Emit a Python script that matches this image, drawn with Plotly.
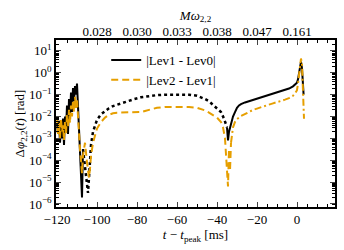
import plotly.graph_objects as go

# ---- data ----
# |Lev1 - Lev0|, early inspiral noisy part (solid)
t_b1 = [-120, -119.5, -119, -118.5, -118, -117.5, -117, -116.5, -116, -115.5, -115, -114.5, -114,
        -113.5, -113, -112.5, -112, -111.5, -111, -110.5, -110, -109.5, -109, -108.5, -108, -107.5, -107]
v_b1 = [5e-3, 1.6e-3, 6.3e-3, 6.3e-4, 3.2e-3, 1e-3, 8e-3, 5e-4, 1e-2, 2.5e-3, 3.2e-2, 1.6e-3, 6.3e-2,
        1e-2, 0.126, 1.6e-2, 0.2, 5e-2, 0.25, 0.1, 0.32, 3.2e-2, 1.6e-3, 3.2e-4, 6.3e-5, 2e-6, 3.2e-4]
# |Lev1 - Lev0|, middle part (dotted)
t_b2 = [-107, -106, -105, -104.5, -104, -103.5, -103, -102, -101, -100, -98, -96, -94, -92, -90, -86,
        -82, -78, -74, -70, -66, -62, -58, -54, -50, -48, -46, -44, -42, -40, -38, -36.5, -35]
v_b2 = [3.2e-4, 5e-5, 1e-5, 3.2e-6, 1.6e-5, 8e-5, 5e-4, 2e-3, 4e-3, 7e-3, 1.26e-2, 1.8e-2, 2.4e-2,
        3e-2, 3.5e-2, 4.7e-2, 6e-2, 7.6e-2, 8.7e-2, 9.5e-2, 0.1, 0.102, 0.102, 0.1, 0.089, 0.076,
        0.063, 0.05, 0.035, 0.025, 0.016, 8e-3, 3.2e-3]
# |Lev1 - Lev0|, late part (solid)
t_b3 = [-35, -34.5, -34, -33, -32, -31, -30, -29, -28, -26, -24, -22, -20, -18, -16, -14, -12, -10,
        -8, -6, -4, -2, -1, 0, 0.5, 1, 1.5, 2, 2.5, 3, 3.3]
v_b3 = [3.2e-3, 8e-4, 2e-3, 5e-3, 1e-2, 1.6e-2, 2.5e-2, 3.2e-2, 3.7e-2, 4.4e-2, 5e-2, 5.8e-2, 6.6e-2,
        7.6e-2, 8.7e-2, 0.1, 0.112, 0.126, 0.145, 0.166, 0.19, 0.24, 0.28, 0.355, 0.5, 1.0, 2.0, 3.2,
        1.6, 0.4, 0.1]

# |Lev2 - Lev1|, inspiral part (dashed)
t_o1 = [-120, -119.5, -119, -118.5, -118, -117.5, -117, -116.5, -116, -115.5, -115, -114.5, -114,
        -113.5, -113, -112.5, -112, -111.5, -111, -110.5, -110, -109.5, -109, -108.5, -108, -107.5, -107,
        -106, -105, -104, -103.5, -103, -102, -101, -100, -98, -96, -94, -92, -90, -88, -86, -84, -82,
        -80, -78, -76, -74, -72, -70, -66, -62, -58, -54, -50, -48, -46, -44, -42, -40, -38, -37, -36,
        -35.5, -35, -34.5, -34, -33.5, -33]
v_o1 = [1e-2, 1.6e-3, 5e-3, 1e-3, 8e-3, 2e-3, 4e-3, 8e-4, 6.3e-3, 1.6e-3, 1.26e-2, 3.2e-3, 2e-2,
        5e-3, 3.2e-2, 1e-2, 5e-2, 1.6e-2, 8e-2, 2.5e-2, 6.3e-2, 6.3e-3, 1.26e-3, 3.2e-4, 1e-4, 2.5e-5, 1.6e-4,
        6.3e-4, 8e-5, 1.6e-5, 4e-5, 1.6e-4, 6.3e-4, 1.4e-3, 2.8e-3, 5.6e-3, 8.9e-3, 1.2e-2, 1.4e-2,
        1.5e-2, 1.5e-2, 1.6e-2, 1.5e-2, 1.5e-2, 1.5e-2, 1.6e-2, 1.8e-2, 2e-2, 2.2e-2, 2.5e-2, 2.75e-2,
        2.8e-2, 2.8e-2, 2.7e-2, 2.5e-2, 2.2e-2, 1.9e-2, 1.5e-2, 1.2e-2, 8.9e-3, 5.6e-3, 3.2e-3, 1e-3,
        2.5e-4, 6.3e-5, 6.3e-6, 3.2e-4, 3.2e-5, 6.3e-4]
# |Lev2 - Lev1|, late part (dash-dot)
t_o2 = [-33, -32, -31, -30, -28, -26, -24, -22, -20, -18, -16, -14, -12, -10, -8, -6, -4, -2, -1, 0,
        0.5, 1, 1.5, 2, 2.5, 3, 3.5]
v_o2 = [6.3e-4, 3.2e-3, 5.6e-3, 7.6e-3, 1.05e-2, 1.3e-2, 1.66e-2, 2e-2, 2.3e-2, 2.7e-2, 3.2e-2,
        3.5e-2, 4e-2, 4.5e-2, 5e-2, 5.9e-2, 6.9e-2, 8.9e-2, 0.112, 0.16, 0.32, 0.8, 2.0, 4.5, 2.5,
        0.16, 7.9e-3]

# top axis: frequency labels at the major time ticks
top_tick_t = [-100, -80, -60, -40, -20, 0]
top_tick_labels = ["0.028", "0.030", "0.033", "0.038", "0.047", "0.161"]

# y axis decades and their labels
y_tick_vals = [1e1, 1e0, 1e-1, 1e-2, 1e-3, 1e-4, 1e-5, 1e-6]
y_tick_labels = ["10<sup>1</sup>", "10<sup>0</sup>", "10<sup>−1</sup>", "10<sup>−2</sup>",
                 "10<sup>−3</sup>", "10<sup>−4</sup>", "10<sup>−5</sup>", "10<sup>−6</sup>"]

legend_names = ["|Lev1 - Lev0|", "|Lev2 - Lev1|"]

BLACK = "#000000"
ORANGE = "#E69F00"
FONT = "Liberation Serif"
FS = 13

fig = go.Figure()
fig.add_trace(go.Scatter(x=t_b1, y=v_b1, mode="lines", line=dict(color=BLACK, width=2),
                         name=legend_names[0], legendgroup="a", showlegend=True))
fig.add_trace(go.Scatter(x=t_b2, y=v_b2, mode="lines", line=dict(color=BLACK, width=2.5, dash="dot"),
                         legendgroup="a", showlegend=False))
fig.add_trace(go.Scatter(x=t_b3, y=v_b3, mode="lines", line=dict(color=BLACK, width=2),
                         legendgroup="a", showlegend=False))
fig.add_trace(go.Scatter(x=t_o1, y=v_o1, mode="lines", line=dict(color=ORANGE, width=2, dash="7px,4px"),
                         name=legend_names[1], legendgroup="b", showlegend=True))
fig.add_trace(go.Scatter(x=t_o2, y=v_o2, mode="lines", line=dict(color=ORANGE, width=2, dash="7px,3px,2px,3px"),
                         legendgroup="b", showlegend=False))
# invisible trace to activate the top axis
fig.add_trace(go.Scatter(x=[top_tick_t[0]], y=[1e-3], xaxis="x2", mode="markers",
                         marker=dict(opacity=0), showlegend=False, hoverinfo="skip"))

xr = [-120.5, 19]
fig.update_layout(
    width=344, height=250,
    margin=dict(l=56, r=9, t=40, b=43),
    paper_bgcolor="white", plot_bgcolor="white",
    font=dict(family=FONT, size=FS, color="black"),
    showlegend=True,
    legend=dict(x=0.18, y=0.97, xanchor="left", yanchor="top", bgcolor="rgba(0,0,0,0)",
                font=dict(size=FS), tracegroupgap=0, itemwidth=30),
    xaxis=dict(range=xr, dtick=20, tick0=0, ticks="inside", ticklen=5, tickwidth=1,
               showline=True, linecolor="black", linewidth=1.5, mirror=True,
               showgrid=False, zeroline=False, automargin=False,
               minor=dict(dtick=5, ticks="inside", ticklen=3, tickcolor="black", showgrid=False),
               title=dict(text="<i>t</i> − <i>t</i><sub>peak</sub> [ms]", standoff=0, font=dict(size=FS)),
               tickfont=dict(size=FS)),
    xaxis2=dict(range=xr, overlaying="x", side="top", anchor="y",
                tickvals=top_tick_t, ticktext=top_tick_labels, automargin=False,
                ticks="inside", ticklen=5, tickwidth=1, showgrid=False, zeroline=False,
                minor=dict(dtick=5, tick0=0, ticks="inside", ticklen=3, tickcolor="black", showgrid=False),
                title=dict(text="<i>Mω</i><sub>2,2</sub>", standoff=0, font=dict(size=FS)),
                tickfont=dict(size=FS)),
    yaxis=dict(type="log", range=[-6.14, 1.5], tickvals=y_tick_vals, ticktext=y_tick_labels,
               ticks="inside", ticklen=5, tickwidth=1, automargin=False,
               showline=True, linecolor="black", linewidth=1.5, mirror="ticks",
               showgrid=False, zeroline=False,
               minor=dict(dtick="D1", ticks="inside", ticklen=3, tickcolor="black", showgrid=False),
               title=dict(text="Δ<i>φ</i><sub>2,2</sub>(<i>t</i>) [rad]", standoff=0, font=dict(size=FS)),
               tickfont=dict(size=FS)),
)

fig.write_html("out.html", config={"displayModeBar": False},
               post_script="document.body.style.margin='0';document.body.style.padding='0';")
